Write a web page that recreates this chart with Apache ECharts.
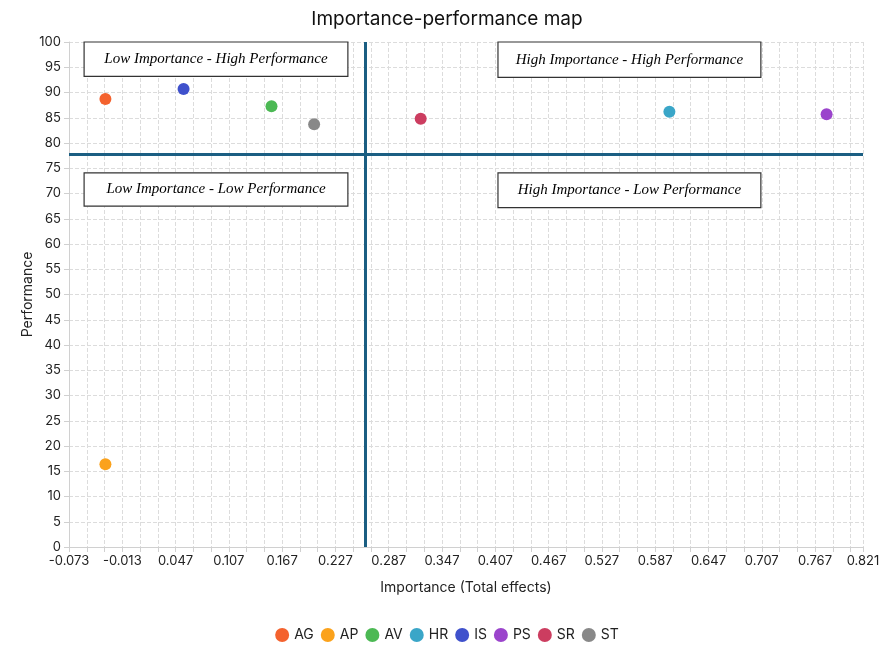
<!DOCTYPE html>
<html>
<head>
<meta charset="utf-8">
<script src="https://cdn.jsdelivr.net/npm/echarts@6/dist/echarts.min.js"></script>
<style>
  html, body { margin: 0; padding: 0; background: #fff; }
  #chart { width: 894px; height: 660px; }
</style>
</head>
<body>
<div id="chart"></div>
<script>
// constructs and their values
const names = ['AG', 'AP', 'AV', 'HR', 'IS', 'PS', 'SR', 'ST'];
const importance = [-0.032, -0.032, 0.155, 0.603, 0.056, 0.780, 0.323, 0.203];
const performance = [88.7, 16.4, 87.3, 86.2, 90.7, 85.7, 84.8, 83.7];
const colors = ['#f4622e', '#fba21c', '#4cb954', '#3aa6c8', '#3f51cc', '#9b44cc', '#cc3d60', '#888888'];

// quadrant thresholds
const importanceCut = 0.262;
const performanceCut = 77.7;

const quadrantLabels = [
    'Low Importance - High Performance',
    'Low Importance - Low Performance',
    'High Importance - High Performance',
    'High Importance - Low Performance'
];

const font = 'Inter, "Noto Sans", sans-serif';
const gridLine = { show: true, lineStyle: { color: '#dcdcdc', type: 'dashed', width: 1 } };

let myChart = echarts.init(document.getElementById('chart'));

let series = names.map(function (n, i) {
    return {
        name: n,
        type: 'scatter',
        symbolSize: 12,
        itemStyle: { color: colors[i], opacity: 1 },
        data: [[importance[i], performance[i]]]
    };
});

function box(text, x1, x2, y1, y2) {
    return [
        { name: text, coord: [x1, y1] },
        { coord: [x2, y2] }
    ];
}

series.push({
    name: 'quadrants',
    type: 'scatter',
    data: [],
    silent: true,
    markArea: {
        silent: true,
        itemStyle: { color: '#fff', borderColor: '#333', borderWidth: 1.2 },
        label: {
            show: true,
            position: 'inside',
            color: '#000',
            fontStyle: 'italic',
            fontFamily: '"Liberation Serif", "DejaVu Serif", serif',
            fontSize: 15
        },
        data: [
            box(quadrantLabels[0], -0.056, 0.241, 100, 93.2),
            box(quadrantLabels[1], -0.056, 0.241, 74.1, 67.5),
            box(quadrantLabels[2], 0.410, 0.706, 100, 93.0),
            box(quadrantLabels[3], 0.410, 0.706, 74.1, 67.2)
        ]
    },
    markLine: {
        silent: true,
        symbol: 'none',
        label: { show: false },
        lineStyle: { color: '#1b5e82', width: 3, type: 'solid' },
        data: [
            { xAxis: importanceCut },
            { yAxis: performanceCut }
        ]
    }
});

let options = {
    animation: false,
    textStyle: { fontFamily: font },
    title: {
        text: 'Importance-performance map',
        left: 'center',
        top: 5,
        textStyle: { fontSize: 19, fontWeight: 'normal', color: '#111', fontFamily: font }
    },
    legend: {
        data: names,
        bottom: 13,
        left: 'center',
        icon: 'circle',
        itemWidth: 14,
        itemHeight: 14,
        itemGap: 7,
        textStyle: { fontSize: 14, color: '#222', fontFamily: font }
    },
    grid: { left: 69, right: 31, top: 42, bottom: 113 },
    xAxis: {
        type: 'value',
        min: -0.073,
        max: 0.821,
        interval: 0.06,
        name: 'Importance (Total effects)',
        nameLocation: 'middle',
        nameGap: 34,
        nameTextStyle: { fontSize: 14, color: '#222' },
        axisLine: { show: true, onZero: false, lineStyle: { color: '#d0d0d0' } },
        axisTick: { show: true, length: 5, lineStyle: { color: '#d0d0d0' } },
        minorTick: { show: true, splitNumber: 3, length: 5, lineStyle: { color: '#d0d0d0' } },
        axisLabel: {
            color: '#222',
            fontSize: 13,
            showMaxLabel: true,
            formatter: function (v) { return v.toFixed(3); }
        },
        splitLine: gridLine,
        minorSplitLine: gridLine
    },
    yAxis: {
        type: 'value',
        min: 0,
        max: 100,
        interval: 5,
        name: 'Performance',
        nameLocation: 'middle',
        nameGap: 34,
        nameMoveOverlap: false,
        nameTextStyle: { fontSize: 14, color: '#222' },
        axisLine: { show: true, onZero: false, lineStyle: { color: '#d0d0d0' } },
        axisTick: { show: true, length: 5, lineStyle: { color: '#d0d0d0' } },
        axisLabel: { color: '#222', fontSize: 13 },
        splitLine: gridLine
    },
    series: series
};

myChart.setOption(options);
</script>
</body>
</html>
